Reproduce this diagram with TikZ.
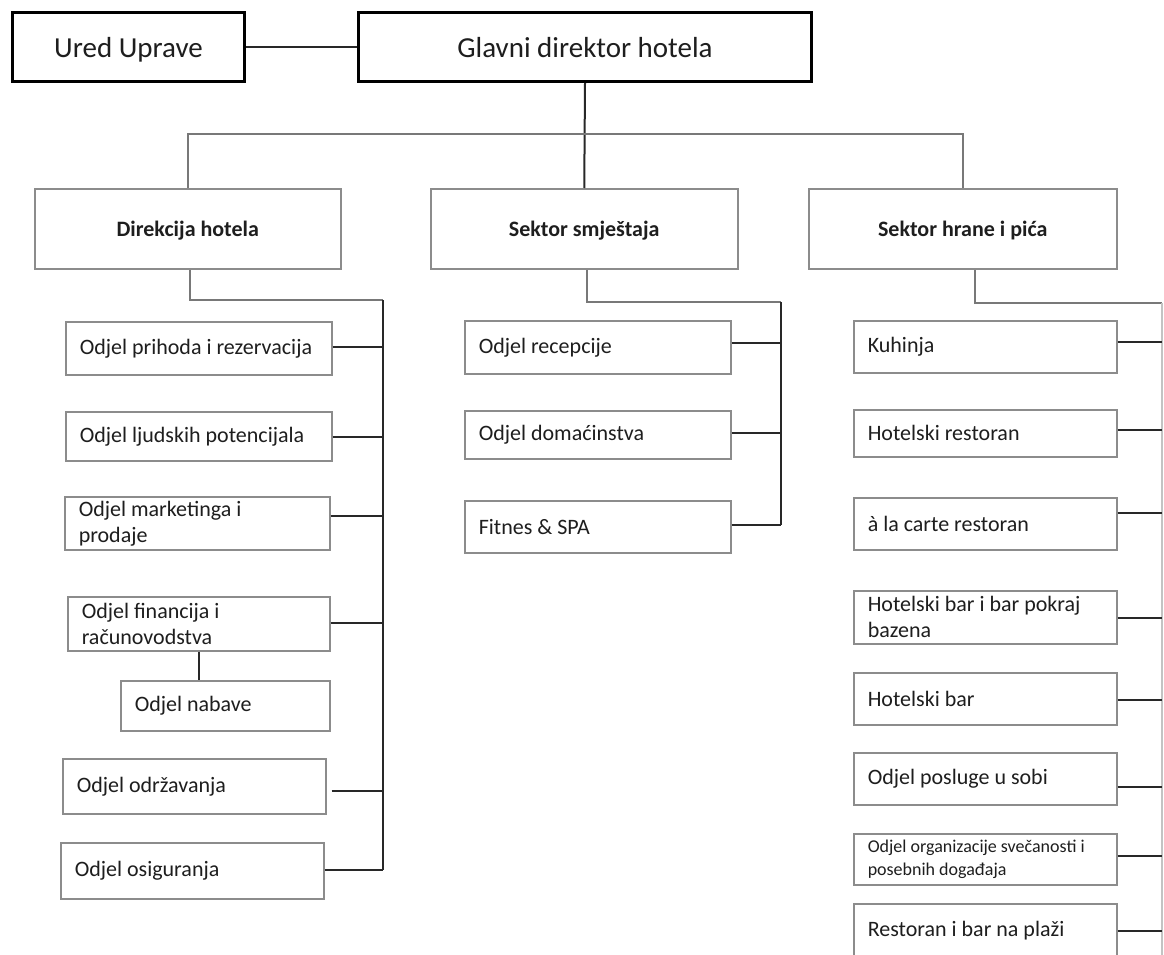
\documentclass[tikz,border=0pt]{standalone}
\usepackage{fontspec}
\setmainfont{Carlito}
\definecolor{boxc}{RGB}{140,140,140}
\definecolor{linec}{RGB}{40,40,40}
\definecolor{busc}{RGB}{120,120,120}
\definecolor{lightbus}{RGB}{195,195,195}
\definecolor{txt}{RGB}{30,30,30}
\begin{document}
\begin{tikzpicture}[x=1pt,y=-1pt,
  topbox/.style={draw=black, line width=3pt, inner sep=0pt, text depth=0pt, align=center, anchor=north west, font=\fontsize{29}{34}\selectfont, text=txt},
  secbox/.style={draw=boxc, line width=1.5pt, inner sep=0pt, text depth=0pt, align=center, anchor=north west, font=\fontsize{22}{26}\selectfont\bfseries, text=txt},
  unitbox/.style={draw=boxc, line width=1.5pt, inner xsep=14pt, inner ysep=0pt, align=flush left, anchor=north west, font=\fontsize{22}{26}\selectfont, text=txt},
  smallunit/.style={unitbox, font=\fontsize{18}{23}\selectfont},
  conn/.style={draw=linec, line width=1.5pt},
  grayconn/.style={draw=busc, line width=2pt},
  lightconn/.style={draw=lightbus, line width=1.5pt}
]
\useasboundingbox (0,0) rectangle (1164,955);
\clip (0,0) rectangle (1164,955);
\fill[white] (0,0) rectangle (1164,955);

% top level
\node[topbox, minimum width=232, minimum height=69] (ured) at (11,11) {Ured Uprave};
\node[topbox, minimum width=453, minimum height=69] (glavni) at (357,11) {Glavni direktor hotela};

% sectors
\node[secbox, minimum width=306, minimum height=80] (dir) at (34,188) {Direkcija hotela};
\node[secbox, minimum width=307, minimum height=80] (smj) at (430,188) {Sektor smještaja};
\node[secbox, minimum width=308, minimum height=80] (hr) at (808,188) {Sektor hrane i pića};

% Direkcija units
\node[unitbox, minimum width=266, minimum height=53, text width=238pt] (d1) at (65,321) {Odjel prihoda i rezervacija};
\node[unitbox, minimum width=266, minimum height=49, text width=238pt] (d2) at (65,411) {Odjel ljudskih potencijala};
\node[unitbox, minimum width=265, minimum height=53, text width=237pt] (d3) at (64,496) {Odjel marketinga i\\prodaje};
\node[unitbox, minimum width=262, minimum height=54, text width=234pt] (d4) at (67,596) {Odjel financija i\\računovodstva};
\node[unitbox, minimum width=209, minimum height=50, text width=181pt] (d5) at (120,680) {Odjel nabave};
\node[unitbox, minimum width=263, minimum height=55, text width=235pt] (d6) at (62,758) {Odjel održavanja};
\node[unitbox, minimum width=263, minimum height=56, text width=235pt] (d7) at (60,842) {Odjel osiguranja};

% Smjestaj units
\node[unitbox, minimum width=266, minimum height=53, text width=238pt] (s1) at (464,320) {Odjel recepcije};
\node[unitbox, minimum width=266, minimum height=48, text width=238pt] (s2) at (464,410) {Odjel domaćinstva};
\node[unitbox, minimum width=266, minimum height=52, text width=238pt] (s3) at (464,500) {Fitnes \& SPA};

% Hrana units
\node[unitbox, minimum width=263, minimum height=52, text width=235pt] (h1) at (853,320) {Kuhinja};
\node[unitbox, minimum width=263, minimum height=47, text width=235pt] (h2) at (853,409) {Hotelski restoran};
\node[unitbox, minimum width=263, minimum height=52, text width=235pt] (h3) at (853,497) {à la carte restoran};
\node[unitbox, minimum width=263, minimum height=53, text width=235pt] (h4) at (853,590) {Hotelski bar i bar pokraj\\bazena};
\node[unitbox, minimum width=263, minimum height=52, text width=235pt] (h5) at (853,672) {Hotelski bar};
\node[unitbox, minimum width=263, minimum height=52, text width=235pt] (h6) at (853,752) {Odjel posluge u sobi};
\node[smallunit, minimum width=263, minimum height=51, text width=235pt] (h7) at (853,833) {Odjel organizacije svečanosti i\\posebnih događaja};
\node[unitbox, minimum width=263, minimum height=54, text width=235pt, anchor=west] (h8) at (853,931) {Restoran i bar na plaži};

% bus coordinates
\coordinate (busy) at (0,134);
\coordinate (dB) at (383,300);
\coordinate (sB) at (781,302);
\coordinate (hB) at (1162,303);

% top connectors
\draw[conn] (ured) -- (glavni);
\draw[conn, line width=2pt] (glavni.south) -- (smj.north);
\draw[grayconn] (dir.north) -- (dir.north |- busy) -- (hr.north |- busy) -- (hr.north);

% Direkcija bus
\draw[grayconn] (190,0 |- dir.south) -- (190,0 |- dB) -- (dB);
\draw[conn] (dB) -- (dB |- 0,870);
\draw[conn] (d1.east |- 0,347) -- (dB |- 0,347);
\draw[conn] (d2.east |- 0,437) -- (dB |- 0,437);
\draw[conn] (d3.east |- 0,516) -- (dB |- 0,516);
\draw[conn] (d4.east |- 0,623) -- (dB |- 0,623);
\draw[conn, shorten <=5pt] (d6.east |- 0,791) -- (dB |- 0,791);
\draw[conn] (d7.east |- 0,870) -- (dB |- 0,870);
\draw[conn] (199,0 |- d4.south) -- (199,0 |- d5.north);

% Smjestaj bus
\draw[grayconn] (587,0 |- smj.south) -- (587,0 |- sB) -- (sB);
\draw[conn] (sB) -- (sB |- 0,525);
\draw[conn] (s1.east |- 0,343) -- (sB |- 0,343);
\draw[conn] (s2.east |- 0,433) -- (sB |- 0,433);
\draw[conn] (s3.east |- 0,525) -- (sB |- 0,525);

% Hrana bus
\draw[grayconn] (975,0 |- hr.south) -- (975,0 |- hB) -- (hB);
\draw[lightconn] (hB) -- (hB |- 0,970);
\draw[conn] (h1.east |- 0,342) -- (hB |- 0,342);
\draw[conn] (h2.east |- 0,430) -- (hB |- 0,430);
\draw[conn] (h3.east |- 0,513) -- (hB |- 0,513);
\draw[conn] (h4.east |- 0,618) -- (hB |- 0,618);
\draw[conn] (h5.east |- 0,700) -- (hB |- 0,700);
\draw[conn] (h6.east |- 0,787) -- (hB |- 0,787);
\draw[conn] (h7.east |- 0,856) -- (hB |- 0,856);
\draw[conn] (h8.east |- 0,931) -- (hB |- 0,931);
\end{tikzpicture}
\end{document}
